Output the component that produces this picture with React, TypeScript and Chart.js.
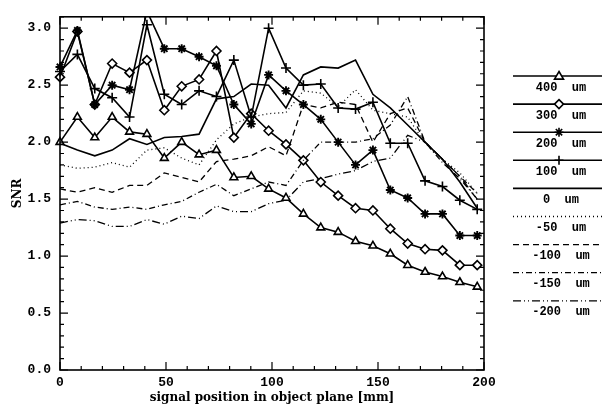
import React, { useEffect, useRef } from 'react';
import { Chart, registerables } from 'chart.js';

Chart.register(...registerables);

// ---------- data ----------
const positions = [0, 8.2, 16.4, 24.6, 32.8, 41, 49.2, 57.4, 65.6, 73.8, 82, 90.2, 98.4, 106.6, 114.8, 123, 131.2, 139.4, 147.6, 155.8, 164, 172.2, 180.4, 188.6, 196.8];

const snr400 = [2.0, 2.22, 2.04, 2.22, 2.09, 2.07, 1.86, 2.0, 1.89, 1.93, 1.69, 1.7, 1.59, 1.51, 1.37, 1.25, 1.21, 1.13, 1.09, 1.02, 0.92, 0.86, 0.82, 0.77, 0.73];
const snr300 = [2.57, 2.97, 2.33, 2.69, 2.61, 2.72, 2.28, 2.49, 2.55, 2.8, 2.04, 2.25, 2.1, 1.98, 1.84, 1.65, 1.53, 1.42, 1.4, 1.24, 1.11, 1.06, 1.05, 0.92, 0.92];
const snr200 = [2.66, 2.98, 2.33, 2.5, 2.46, 3.15, 2.82, 2.82, 2.75, 2.67, 2.33, 2.16, 2.59, 2.45, 2.33, 2.2, 2.0, 1.8, 1.93, 1.58, 1.51, 1.37, 1.37, 1.18, 1.18];
const snr100 = [2.62, 2.77, 2.47, 2.39, 2.22, 3.03, 2.42, 2.33, 2.45, 2.4, 2.72, 2.22, 3.0, 2.65, 2.5, 2.51, 2.3, 2.29, 2.35, 1.99, 1.99, 1.66, 1.61, 1.49, 1.41];
const snr0 = [1.99, 1.93, 1.88, 1.93, 2.03, 1.98, 2.04, 2.05, 2.07, 2.38, 2.4, 2.51, 2.5, 2.3, 2.59, 2.66, 2.65, 2.72, 2.42, 2.3, 2.15, 2.0, 1.85, 1.65, 1.42];
const snrM50 = [1.8, 1.77, 1.78, 1.82, 1.78, 1.93, 1.95, 1.86, 1.8, 2.02, 2.16, 2.22, 2.25, 2.26, 2.45, 2.43, 2.31, 2.46, 2.28, 2.25, 2.22, 1.99, 1.85, 1.73, 1.55];
const snrM100 = [1.59, 1.56, 1.6, 1.56, 1.62, 1.62, 1.73, 1.69, 1.65, 1.83, 1.85, 1.88, 1.96, 1.88, 2.33, 2.3, 2.35, 2.33, 2.0, 2.25, 2.3, 2.0, 1.85, 1.7, 1.55];
const snrM150 = [1.45, 1.48, 1.43, 1.41, 1.43, 1.41, 1.45, 1.48, 1.56, 1.63, 1.53, 1.59, 1.65, 1.62, 1.84, 2.0, 2.0, 2.0, 2.03, 2.15, 2.4, 2.0, 1.82, 1.68, 1.5];
const snrM200 = [1.29, 1.32, 1.31, 1.26, 1.26, 1.32, 1.28, 1.35, 1.33, 1.44, 1.39, 1.39, 1.46, 1.49, 1.65, 1.68, 1.72, 1.75, 1.83, 1.86, 2.06, 2.0, 1.85, 1.7, 1.5];

const seriesLabels = ['400  um', '300  um', '200  um', '100  um', '0  um', '-50  um', '-100  um', '-150  um', '-200  um'];

const xTickValues = [0, 50, 100, 150, 200];
const yTickValues = [0, 0.5, 1.0, 1.5, 2.0, 2.5, 3.0];

const X_MIN = 0;
const X_MAX = 200;
const Y_MIN = 0;
const Y_MAX = 3.1;

// ---------- styles ----------
type Style = { dash: number[]; point: string | false; width: number; order: number };
const styles: Style[] = [
  { dash: [], point: 'triangle', width: 1.6, order: 0 },
  { dash: [], point: 'rectRot', width: 1.6, order: 1 },
  { dash: [], point: 'star', width: 1.6, order: 0 },
  { dash: [], point: 'cross', width: 1.6, order: 0 },
  { dash: [], point: false, width: 1.6, order: 0 },
  { dash: [1, 3], point: false, width: 1.3, order: 0 },
  { dash: [6, 4], point: false, width: 1.3, order: 0 },
  { dash: [6, 3, 1, 3], point: false, width: 1.3, order: 0 },
  { dash: [8, 3, 1, 3, 1, 3], point: false, width: 1.3, order: 0 },
];

const allSeries = [snr400, snr300, snr200, snr100, snr0, snrM50, snrM100, snrM150, snrM200];

function drawMarker(ctx: CanvasRenderingContext2D, style: string, x: number, y: number) {
  ctx.save();
  ctx.setLineDash([]);
  ctx.lineWidth = 1.6;
  ctx.strokeStyle = '#000';
  ctx.fillStyle = '#fff';
  ctx.beginPath();
  const r = 4.5;
  if (style === 'triangle') {
    ctx.moveTo(x, y - r);
    ctx.lineTo(x + r, y + r * 0.7);
    ctx.lineTo(x - r, y + r * 0.7);
    ctx.closePath();
    ctx.fill();
    ctx.stroke();
  } else if (style === 'rectRot') {
    ctx.moveTo(x, y - r);
    ctx.lineTo(x + r, y);
    ctx.lineTo(x, y + r);
    ctx.lineTo(x - r, y);
    ctx.closePath();
    ctx.fill();
    ctx.stroke();
  } else if (style === 'star') {
    for (let a = 0; a < 4; a++) {
      const ang = (a * Math.PI) / 4;
      ctx.moveTo(x - Math.cos(ang) * r, y - Math.sin(ang) * r);
      ctx.lineTo(x + Math.cos(ang) * r, y + Math.sin(ang) * r);
    }
    ctx.stroke();
  } else if (style === 'cross') {
    ctx.moveTo(x - r, y);
    ctx.lineTo(x + r, y);
    ctx.moveTo(x, y - r);
    ctx.lineTo(x, y + r);
    ctx.stroke();
  }
  ctx.restore();
}

const framePlugin = {
  id: 'frameTicks',
  afterDraw(chart: any) {
    const { ctx, chartArea } = chart;
    const xs = chart.scales.x;
    const ys = chart.scales.y;
    const { left, right, top, bottom } = chartArea;
    ctx.save();
    ctx.strokeStyle = '#000';
    ctx.setLineDash([]);
    ctx.lineWidth = 1.6;
    ctx.strokeRect(left, top, right - left, bottom - top);
    ctx.lineWidth = 1.2;
    ctx.beginPath();
    for (let v = X_MIN; v <= X_MAX + 1e-6; v += 10) {
      const major = xTickValues.some((t) => Math.abs(t - v) < 1e-6);
      const len = major ? 8 : 4;
      const px = xs.getPixelForValue(v);
      ctx.moveTo(px, bottom);
      ctx.lineTo(px, bottom - len);
      ctx.moveTo(px, top);
      ctx.lineTo(px, top + len);
    }
    for (let i = 0; i <= 31; i++) {
      const v = i / 10;
      const major = yTickValues.some((t) => Math.abs(t - v) < 1e-6);
      const len = major ? 8 : 4;
      const py = ys.getPixelForValue(v);
      ctx.moveTo(left, py);
      ctx.lineTo(left + len, py);
      ctx.moveTo(right, py);
      ctx.lineTo(right - len, py);
    }
    ctx.stroke();

    // legend
    const legendTop = 76;
    const legendStep = 28.1;
    const lineX0 = 513;
    const lineX1 = 602;
    for (let i = 0; i < seriesLabels.length; i++) {
      const y = legendTop + i * legendStep;
      const st = styles[i];
      ctx.save();
      ctx.lineWidth = st.width;
      ctx.setLineDash(st.dash);
      ctx.beginPath();
      ctx.moveTo(lineX0, y);
      ctx.lineTo(lineX1, y);
      ctx.stroke();
      ctx.restore();
      if (st.point) drawMarker(ctx, st.point as string, 559, y);
      ctx.fillStyle = '#000';
      ctx.font = 'bold 12px "Liberation Mono", monospace';
      ctx.textBaseline = 'middle';
      ctx.textAlign = 'center';
      ctx.fillText(seriesLabels[i], 561, y + 11.5);
    }
    ctx.restore();
  },
};

export default function App() {
  const canvasRef = useRef<HTMLCanvasElement | null>(null);

  useEffect(() => {
    document.body.style.margin = '0';
    const canvas = canvasRef.current;
    if (!canvas) return;

    const datasets = allSeries.map((series, i) => {
      const st = styles[i];
      return {
        label: seriesLabels[i],
        order: st.order,
        data: series.map((v, j) => ({ x: positions[j], y: v })),
        borderColor: '#000',
        backgroundColor: '#fff',
        borderWidth: st.width,
        borderDash: st.dash,
        pointStyle: st.point === false ? 'circle' : (st.point as any),
        pointRadius: st.point === false ? 0 : st.point === 'cross' ? 5 : 4.5,
        pointBorderWidth: st.point === 'star' ? 1.9 : 1.6,
        pointBorderColor: '#000',
        pointBackgroundColor: '#fff',
        pointHoverRadius: 0,
        tension: 0,
        fill: false,
        clip: { left: 6, top: 0, right: 6, bottom: 6 },
      };
    });

    const chart = new Chart(canvas, {
      type: 'line',
      data: { datasets: datasets as any },
      plugins: [framePlugin],
      options: {
        animation: false,
        responsive: false,
        devicePixelRatio: 1,
        events: [],
        layout: { padding: { left: 0, right: 602 - 484, top: 7, bottom: 0 } },
        plugins: { legend: { display: false }, tooltip: { enabled: false } },
        scales: {
          x: {
            type: 'linear',
            min: X_MIN,
            max: X_MAX,
            border: { display: false },
            grid: { display: false, drawTicks: false },
            afterFit: (s: any) => {
              s.height = 34;
            },
            afterBuildTicks: (s: any) => {
              s.ticks = xTickValues.map((v) => ({ value: v }));
            },
            ticks: {
              color: '#000',
              padding: 5,
              maxRotation: 0,
              font: { family: '"Liberation Mono", monospace', size: 13, weight: 'bold' },
              callback: (v: any) => String(v),
            },
            title: {
              display: true,
              text: 'signal position in object plane [mm]',
              color: '#000',
              padding: { top: 0, bottom: 0 },
              font: { family: '"DejaVu Serif", serif', size: 12, weight: 'bold', lineHeight: 1 },
            },
          },
          y: {
            type: 'linear',
            min: Y_MIN,
            max: Y_MAX,
            border: { display: false },
            grid: { display: false, drawTicks: false },
            afterFit: (s: any) => {
              s.width = 60;
            },
            afterBuildTicks: (s: any) => {
              s.ticks = yTickValues.map((v) => ({ value: v }));
            },
            ticks: {
              color: '#000',
              padding: 9,
              font: { family: '"Liberation Mono", monospace', size: 13, weight: 'bold' },
              callback: (v: any) => Number(v).toFixed(1),
            },
            title: {
              display: true,
              text: 'SNR',
              color: '#000',
              padding: { top: 11, bottom: 0 },
              font: { family: '"DejaVu Serif", serif', size: 12, weight: 'bold' },
            },
          },
        },
      } as any,
    });

    return () => {
      chart.destroy();
    };
  }, []);

  return (
    <div style={{ width: 602, height: 404, position: 'relative', background: '#fff' }}>
      <canvas ref={canvasRef} width={602} height={404} style={{ display: 'block' }} />
    </div>
  );
}
